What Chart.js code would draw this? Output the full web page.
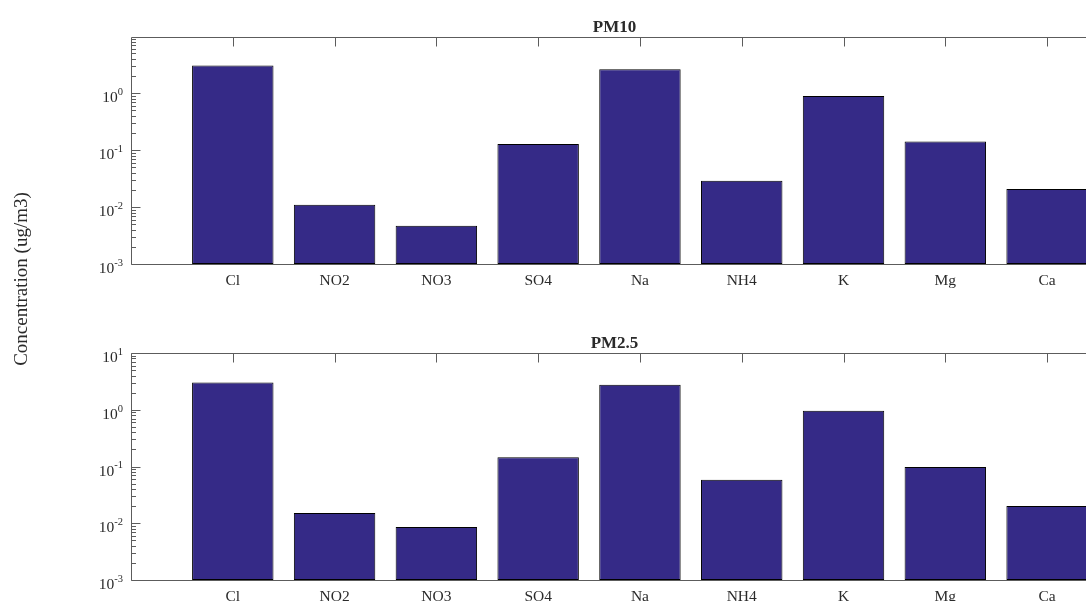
<!DOCTYPE html>
<html>
<head>
<meta charset="utf-8">
<script src="https://cdn.jsdelivr.net/npm/chart.js@4/dist/chart.umd.min.js"></script>
<style>
  html, body { margin: 0; padding: 0; background: #fff; overflow: hidden; width: 1086px; height: 601px; }
  canvas { position: absolute; left: 0; top: 0; }
</style>
</head>
<body>
<canvas id="pm10" width="1110" height="601"></canvas>
<canvas id="pm25" width="1110" height="601"></canvas>
<script>
// Water-soluble ion concentrations (ug/m3)
const ions = ['Cl', 'NO2', 'NO3', 'SO4', 'Na', 'NH4', 'K', 'Mg', 'Ca'];
const pm10Values = [3.05, 0.0109, 0.0047, 0.128, 2.60, 0.0288, 0.885, 0.141, 0.0206];
const pm25Values = [3.02, 0.0151, 0.0086, 0.146, 2.75, 0.0586, 0.96, 0.0975, 0.0201];
const panelTitles = ['PM10', 'PM2.5'];
const yAxisTitle = 'Concentration (ug/m3)';
const decadeExponents = [-3, -2, -1, 0, 1];

const FONT = "'Liberation Serif', 'Times New Roman', serif";
const TEXT = '#2a2a2a';
const AXIS = '#5c5c5c';
const BAR = '#352A87';
const CANVAS_W = 1110, CANVAS_H = 601;

// MATLAB-style box axes: inward ticks, log minor ticks, 10^n labels
const boxAxes = {
  id: 'boxAxes',
  beforeDatasetsDraw(chart, args, opts) {
    const { ctx, chartArea: a, scales: { x, y } } = chart;
    const L = Math.round(a.left) + 0.5, R = Math.round(a.right) + 0.5;
    const T = Math.round(a.top) + 0.5, B = Math.round(a.bottom) + 0.5;
    ctx.save();
    ctx.strokeStyle = AXIS;
    ctx.lineWidth = 1;
    ctx.beginPath();
    ctx.rect(L, T, R - L, B - T);
    ions.forEach((_, i) => {
      const px = Math.round(x.getPixelForValue(i + 1)) + 0.5;
      ctx.moveTo(px, T); ctx.lineTo(px, T + 9);
      ctx.moveTo(px, B); ctx.lineTo(px, B - 9);
    });
    decadeExponents.forEach(e => {
      for (let m = 1; m <= 9; m++) {
        const v = m * Math.pow(10, e);
        if (v < y.min * 0.9999 || v > y.max * 1.0001) continue;
        const py = Math.round(y.getPixelForValue(v)) + 0.5;
        const len = m === 1 ? 9 : 4.5;
        ctx.moveTo(L, py); ctx.lineTo(L + len, py);
        ctx.moveTo(R, py); ctx.lineTo(R - len, py);
      }
    });
    ctx.stroke();
    ctx.restore();
  },
  afterDraw(chart, args, opts) {
    const { ctx, chartArea: a, scales: { y } } = chart;
    ctx.save();
    ctx.fillStyle = TEXT;
    // y tick labels as 10 with a raised exponent
    ctx.textBaseline = 'alphabetic';
    decadeExponents.forEach(e => {
      const v = Math.pow(10, e);
      if (v < y.min * 0.9999 || v > y.max * 1.0001) return;
      const py = y.getPixelForValue(v);
      const exp = String(e);
      ctx.font = `10.5px ${FONT}`;
      const ew = ctx.measureText(exp).width;
      const right = a.left - 8;
      ctx.textAlign = 'left';
      ctx.fillText(exp, right - ew, py + 1.8);
      ctx.font = `15.5px ${FONT}`;
      ctx.textAlign = 'right';
      ctx.fillText('10', right - ew, py + 9);
    });
    // panel title
    ctx.font = `bold 17px ${FONT}`;
    ctx.textAlign = 'center';
    ctx.fillText(opts.title, (a.left + a.right) / 2, a.top - 5);
    // shared y-axis title
    if (opts.yTitle) {
      ctx.translate(22, 279);
      ctx.rotate(-Math.PI / 2);
      ctx.font = `19px ${FONT}`;
      ctx.textAlign = 'center';
      ctx.textBaseline = 'middle';
      ctx.fillText(opts.yTitle, 0, 0);
    }
    ctx.restore();
  }
};

function makePanel(id, values, title, yMax, area, yTitle) {
  return new Chart(document.getElementById(id), {
    type: 'bar',
    data: {
      datasets: [{
        data: values.map((v, i) => ({ x: i + 1, y: v })),
        backgroundColor: BAR,
        borderColor: '#000',
        borderWidth: 1,
        borderSkipped: false,
        categoryPercentage: 1,
        barPercentage: 0.8
      }]
    },
    options: {
      responsive: false,
      animation: false,
      devicePixelRatio: 1,
      layout: { padding: { top: area.top, right: CANVAS_W - area.right, left: 0, bottom: 0 } },
      plugins: {
        legend: { display: false },
        tooltip: { enabled: false },
        boxAxes: { title, yTitle }
      },
      scales: {
        x: {
          type: 'linear', min: 0, max: 9.5, offset: false,
          grid: { display: false, drawTicks: false, offset: false },
          border: { display: false },
          afterBuildTicks: s => { s.ticks = ions.map((_, i) => ({ value: i + 1 })); },
          afterFit: s => { s.height = CANVAS_H - area.bottom; },
          ticks: {
            callback: v => ions[v - 1] ?? '',
            font: { family: FONT, size: 15.5 },
            color: TEXT, padding: 8, maxRotation: 0, autoSkip: false
          }
        },
        y: {
          type: 'logarithmic', min: 1e-3, max: yMax,
          grid: { display: false, drawTicks: false },
          border: { display: false },
          ticks: { display: false },
          afterFit: s => { s.width = area.left; }
        }
      }
    },
    plugins: [boxAxes]
  });
}

makePanel('pm10', pm10Values, panelTitles[0], 9.6, { left: 131, right: 1098, top: 37, bottom: 264 }, yAxisTitle);
makePanel('pm25', pm25Values, panelTitles[1], 10, { left: 131, right: 1098, top: 353, bottom: 580 }, null);
</script>
</body>
</html>
